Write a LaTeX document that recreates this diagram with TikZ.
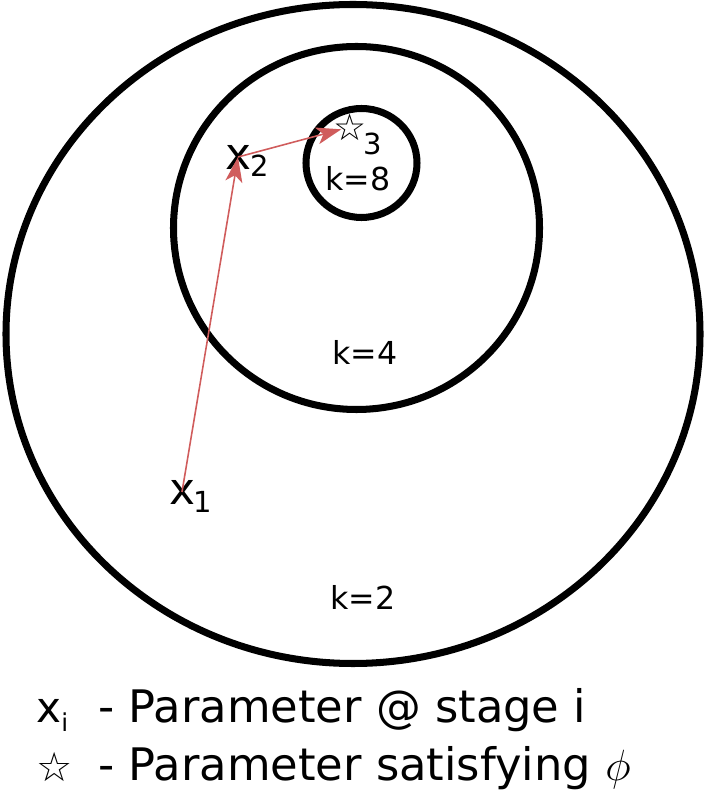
\documentclass[tikz,border=0pt]{standalone}
\usepackage{fontspec}
\setmainfont{DejaVu Sans}
\usepackage{tikz}
\usetikzlibrary{arrows.meta}
\definecolor{aRed}{RGB}{208,92,92}
\tikzset{ring/.style={draw, line width=4pt}}
\tikzset{r/.style={draw, line width=0.9pt, aRed,
  -{Stealth[length=5mm,width=3.4mm,inset=1.3mm]}}}
\tikzset{klab/.style={font=\fontsize{18}{20}\selectfont, inner sep=0pt}}
\tikzset{xlab/.style={font=\fontsize{25}{28}\selectfont, inner sep=0pt}}
\tikzset{sub/.style={font=\fontsize{16.5}{18}\selectfont, inner sep=0pt}}
\tikzset{st/.style={font=\fontsize{21}{24}\selectfont, inner sep=0pt}}
\tikzset{leg/.style={font=\fontsize{25.5}{30}\selectfont, inner sep=0pt, anchor=base west}}

\begin{document}
\begin{tikzpicture}
            \useasboundingbox (0,0) rectangle (14.12,15.84);
            %% rings
            \draw[ring] (7.06,9.16) ellipse (6.94 and 6.59);
            \draw[ring] (7.13,11.28) ellipse (3.66 and 3.63);
            \draw[ring] (7.23,12.58) ellipse (1.11 and 1.09);
            \node (k2) at (7.26,3.90) [klab] {k=2};
            \node (k4) at (7.30,8.80) [klab] {k=4};
            \node (k8) at (7.16,12.26) [klab] {k=8};
            %% stages
            \node (x1) at (3.64,6.00) [xlab] {x};
            \node (x2) at (4.76,12.70) [xlab] {x};
            \node (s3) at (7.00,13.30) [st] {☆};
            \node (i1) at (4.06,5.80) [sub] {1};
            \node (i2) at (5.20,12.52) [sub] {2};
            \node (i3) at (7.45,12.97) [sub] {3};
            \draw [r] (x1.center) to (x2.center);
            \draw [r, shorten >=0.18cm] (x2.center) to (s3.center);
            %% legend
            \node (key1) at (0.72,1.38) [leg, font=\fontsize{24}{28}\selectfont] {x\raisebox{-5pt}{\fontsize{14}{16}\selectfont i}};
            \node (key2) at (1.10,0.51) [st, font=\fontsize{23}{26}\selectfont] {☆};
            \node (leg1) at (1.96,1.38) [leg] {- Parameter @ stage i};
            \node (leg2) at (1.96,0.24) [leg] {- Parameter satisfying $\phi$};
\end{tikzpicture}
\end{document}
